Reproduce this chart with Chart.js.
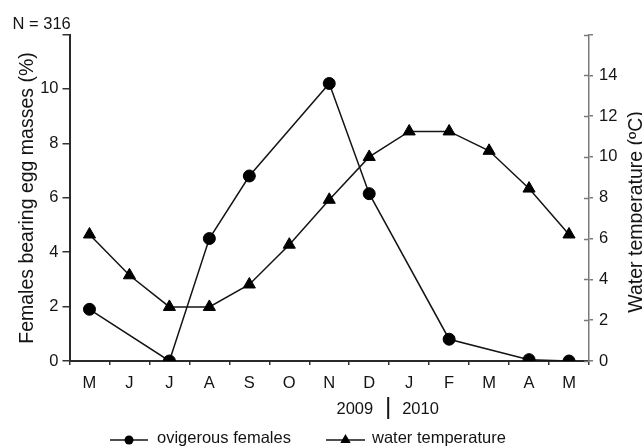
<!DOCTYPE html>
<html>
<head>
<meta charset="utf-8">
<script src="https://cdn.jsdelivr.net/npm/chart.js@4.4.1/dist/chart.umd.min.js"></script>
<style>
  html, body { margin: 0; padding: 0; background: #fff; overflow: hidden; }
  #wrap { width: 642px; height: 446px; position: relative; }
</style>
</head>
<body>
<div id="wrap"><canvas id="c" width="642" height="446"></canvas></div>
<script>
// Monthly sampling, May 2009 – May 2010
const months = ['M', 'J', 'J', 'A', 'S', 'O', 'N', 'D', 'J', 'F', 'M', 'A', 'M'];
// Percentage of females carrying egg masses (null = month not sampled)
const ovigerousFemales = [1.9, null, 0, 4.5, 6.8, null, 10.2, 6.15, null, 0.8, null, 0.05, 0];
// Water temperature, °C
const waterTemperature = [6.2, 4.2, 2.65, 2.65, 3.75, 5.7, 7.9, 10.0, 11.25, 11.25, 10.3, 8.45, 6.2];
const femaleTicks = [0, 2, 4, 6, 8, 10];
const temperatureTicks = [0, 2, 4, 6, 8, 10, 12, 14];
const femaleAxisMax = 12;
const temperatureAxisMax = 16;
const sampleSize = 'N = 316';
const yearLabels = ['2009', '2010'];
const seriesNames = ['ovigerous females', 'water temperature'];
const leftTitle = 'Females bearing egg masses (%)';
const rightTitle = 'Water temperature (ºC)';

const FONT = '"Liberation Sans", Arial, Helvetica, sans-serif';
const INK = '#141414';

function drawMarker(ctx, style, x, y, r) {
  ctx.beginPath();
  if (style === 'circle') {
    ctx.arc(x, y, r, 0, Math.PI * 2);
  } else {
    ctx.moveTo(x, y - r);
    ctx.lineTo(x + r * 0.866, y + r * 0.5);
    ctx.lineTo(x - r * 0.866, y + r * 0.5);
    ctx.closePath();
  }
  ctx.fill();
}

// Annotations: sample size, axis titles, year split and legend
const decorations = {
  id: 'decorations',
  afterDraw(chart) {
    const ctx = chart.ctx;
    const xs = chart.scales.x;
    const yR = chart.scales.yR;
    ctx.save();

    // inner half of the right-axis tick marks
    ctx.strokeStyle = '#7a7a7a';
    ctx.lineWidth = 1.5;
    yR.ticks.forEach(t => {
      const py = Math.round(yR.getPixelForValue(t.value)) + 0.5;
      ctx.beginPath();
      ctx.moveTo(yR.left - 5, py);
      ctx.lineTo(yR.left, py);
      ctx.stroke();
    });

    ctx.fillStyle = INK;
    ctx.font = '16.5px ' + FONT;
    ctx.textBaseline = 'alphabetic';
    ctx.textAlign = 'left';
    ctx.fillText(sampleSize, 12.5, 28.5);

    // axis titles, both reading bottom to top
    ctx.font = '19.5px ' + FONT;
    ctx.textAlign = 'center';
    ctx.save();
    ctx.translate(33, 198);
    ctx.rotate(-Math.PI / 2);
    ctx.fillText(leftTitle, 0, 0);
    ctx.restore();
    ctx.save();
    ctx.translate(642, 212);
    ctx.rotate(-Math.PI / 2);
    ctx.fillText(rightTitle, 0, 0);
    ctx.restore();

    // year split between December and January
    const split = (xs.getPixelForValue(7) + xs.getPixelForValue(8)) / 2;
    ctx.font = '16.5px ' + FONT;
    ctx.textAlign = 'right';
    ctx.fillText(yearLabels[0], split - 16, 413.5);
    ctx.textAlign = 'left';
    ctx.fillText(yearLabels[1], split + 13, 413.5);
    ctx.strokeStyle = INK;
    ctx.lineWidth = 2;
    ctx.beginPath();
    ctx.moveTo(split - 1, 397);
    ctx.lineTo(split - 1, 419);
    ctx.stroke();

    // legend
    const items = [
      { x0: 110, x1: 148, style: 'circle', r: 4.5, tx: 157, label: seriesNames[0] },
      { x0: 326, x1: 365, style: 'triangle', r: 6, tx: 372, label: seriesNames[1] }
    ];
    const ly = 440;
    items.forEach(it => {
      ctx.strokeStyle = INK;
      ctx.lineWidth = 1.6;
      ctx.beginPath();
      ctx.moveTo(it.x0, ly);
      ctx.lineTo(it.x1, ly);
      ctx.stroke();
      ctx.fillStyle = '#000';
      drawMarker(ctx, it.style, (it.x0 + it.x1) / 2, ly, it.r);
      ctx.fillStyle = INK;
      ctx.textAlign = 'left';
      ctx.fillText(it.label, it.tx, 443);
    });
    ctx.restore();
  }
};

new Chart(document.getElementById('c'), {
  type: 'line',
  data: {
    labels: months,
    datasets: [
      {
        label: seriesNames[1],
        data: waterTemperature,
        yAxisID: 'yR',
        borderColor: INK,
        borderWidth: 1.5,
        pointStyle: 'triangle',
        pointRadius: 7,
        pointBorderWidth: 1,
        pointBackgroundColor: '#000',
        pointBorderColor: '#000',
        tension: 0,
        spanGaps: true
      },
      {
        label: seriesNames[0],
        data: ovigerousFemales,
        yAxisID: 'yL',
        borderColor: INK,
        borderWidth: 1.5,
        pointStyle: 'circle',
        pointRadius: 6,
        pointBorderWidth: 1,
        pointBackgroundColor: '#000',
        pointBorderColor: '#000',
        tension: 0,
        spanGaps: true
      }
    ]
  },
  options: {
    responsive: false,
    animation: false,
    devicePixelRatio: 1,
    layout: { padding: { top: 34.5, right: 0, bottom: 0, left: 0 } },
    plugins: { legend: { display: false }, tooltip: { enabled: false } },
    scales: {
      x: {
        type: 'category',
        offset: true,
        grid: { offset: true, drawOnChartArea: false, tickLength: 4, color: '#333', lineWidth: 1.5 },
        border: { color: '#2a2a2a', width: 2 },
        ticks: { font: { family: FONT, size: 16.5 }, color: INK, padding: 9, maxRotation: 0, autoSkip: false },
        afterFit: s => { s.height = 85; }
      },
      yL: {
        position: 'left',
        min: 0,
        max: femaleAxisMax,
        afterBuildTicks: s => { s.ticks = femaleTicks.concat([femaleAxisMax]).map(v => ({ value: v })); },
        grid: { drawOnChartArea: false, tickLength: 7, color: '#333', lineWidth: 1.5 },
        border: { color: '#2a2a2a', width: 2 },
        ticks: {
          font: { family: FONT, size: 16.5 }, color: INK, padding: 4,
          callback: v => (femaleTicks.includes(v) ? String(v) : '')
        },
        afterFit: s => { s.width = 69.5; }
      },
      yR: {
        position: 'right',
        min: 0,
        max: temperatureAxisMax,
        afterBuildTicks: s => { s.ticks = temperatureTicks.concat([temperatureAxisMax]).map(v => ({ value: v })); },
        grid: { drawOnChartArea: false, tickLength: 4, color: '#7a7a7a', lineWidth: 1.5 },
        border: { color: '#7a7a7a', width: 1.5 },
        ticks: {
          font: { family: FONT, size: 16.5 }, color: INK, padding: 6,
          callback: v => (temperatureTicks.includes(v) ? String(v) : '')
        },
        afterFit: s => { s.width = 53; }
      }
    }
  },
  plugins: [decorations]
});
</script>
</body>
</html>
